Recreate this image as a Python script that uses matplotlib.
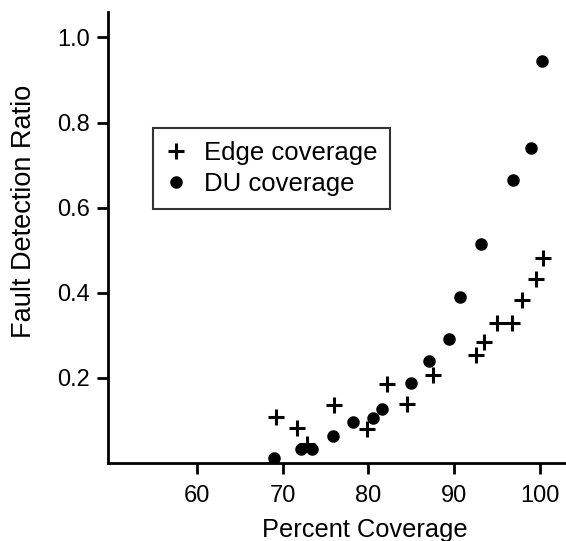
import matplotlib
matplotlib.use("Agg")
import matplotlib.pyplot as plt

plt.rcParams['font.family'] = ['Liberation Sans', 'DejaVu Sans']

# values
edge_x = [69.3, 71.7, 72.9, 76.0, 79.8, 82.2, 84.5, 87.5, 92.5, 93.5, 95.0, 96.7, 97.9, 99.5, 100.3]
edge_y = [0.109, 0.083, 0.045, 0.136, 0.081, 0.186, 0.138, 0.208, 0.255, 0.285, 0.328, 0.328, 0.382, 0.432, 0.482]

du_x = [69.0, 72.2, 73.4, 75.9, 78.2, 80.5, 81.6, 85.0, 87.0, 89.4, 90.7, 93.1, 96.8, 98.9, 100.2]
du_y = [0.012, 0.032, 0.032, 0.063, 0.097, 0.107, 0.127, 0.188, 0.239, 0.291, 0.390, 0.514, 0.666, 0.740, 0.945]

x_ticks = [60, 70, 80, 90, 100]
y_ticks = [0.2, 0.4, 0.6, 0.8, 1.0]

fig = plt.figure(figsize=(5.66, 5.41), dpi=100)
ax = fig.add_axes([0.191, 0.144, 0.809, 0.834])

ax.plot(edge_x, edge_y, linestyle='none', marker='+', markersize=11,
        markeredgewidth=2.2, color='black', label='Edge coverage')
ax.plot(du_x, du_y, linestyle='none', marker='o', markersize=8,
        color='black', label='DU coverage')

ax.set_xlim(49.7, 103)
ax.set_ylim(0, 1.06)
ax.set_xticks(x_ticks)
ax.set_yticks(y_ticks)
ax.set_yticklabels([f"{v:.1f}" for v in y_ticks])

for side in ['top', 'right']:
    ax.spines[side].set_visible(False)
for side in ['left', 'bottom']:
    ax.spines[side].set_linewidth(2)

ax.tick_params(axis='both', direction='out', length=8, width=2,
               labelsize=17, colors='black')
ax.tick_params(axis='x', pad=8)
ax.tick_params(axis='y', pad=5)

# labels sit a bit off-centre in the original
ax.set_xlabel('Percent Coverage', fontsize=18.3)
ax.xaxis.set_label_coords(0.561, -0.121)
ax.set_ylabel('Fault Detection Ratio', fontsize=19.5)
ax.yaxis.set_label_coords(-0.155, 0.559)

leg = ax.legend(loc='upper left', bbox_to_anchor=(0.097, 0.743), fontsize=18.5,
                frameon=True, fancybox=False, handletextpad=0.7,
                borderpad=0.5, labelspacing=0.3, handlelength=0.8,
                borderaxespad=0)
leg.get_frame().set_edgecolor('black')
leg.get_frame().set_linewidth(1.5)

fig.savefig('out.png', dpi=100)
